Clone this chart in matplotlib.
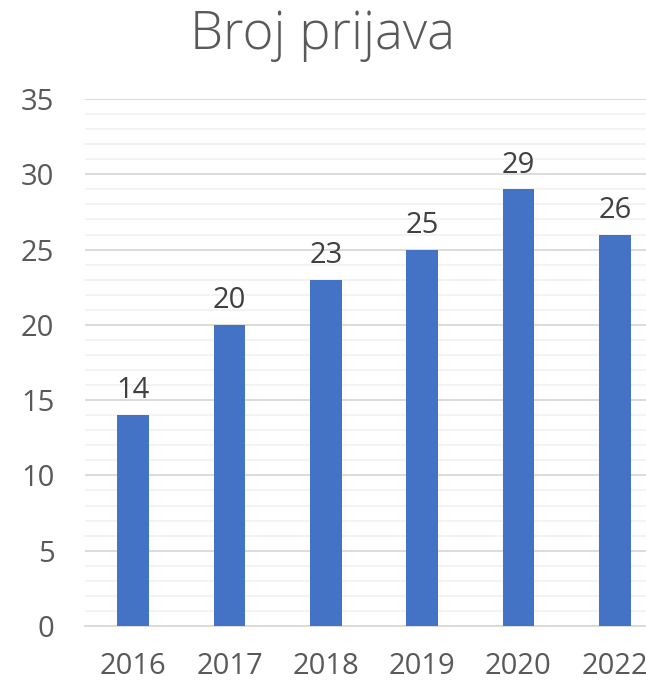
import numpy as np
import matplotlib.pyplot as plt
from matplotlib.ticker import MultipleLocator

years = ["2016", "2017", "2018", "2019", "2020", "2022"]
prijave = [14, 20, 23, 25, 29, 26]

plt.rcParams["font.family"] = ["Open Sans", "DejaVu Sans"]

fig = plt.figure(figsize=(6.46, 6.8), dpi=100)
ax = fig.add_axes([85 / 646, 54 / 680, 578 / 646, 527 / 680])

x = np.arange(len(years))
ax.bar(x, prijave, width=0.33, color="#4472C4", zorder=3)

for xi, v in zip(x, prijave):
    ax.annotate(str(v), (xi, v), xytext=(0, 7), textcoords="offset points",
                ha="center", va="bottom", fontsize=21, color="#404040")

ax.set_xlim(-0.5, len(years) - 0.5)
ax.set_ylim(0, 35)
ax.yaxis.set_major_locator(MultipleLocator(5))
ax.yaxis.set_minor_locator(MultipleLocator(1))
ax.grid(axis="y", which="major", color="#d9d9d9", linewidth=1.3, zorder=0)
ax.grid(axis="y", which="minor", color="#f2f2f2", linewidth=1.3, zorder=0)

ax.set_xticks(x)
ax.set_xticklabels(years)
for s in ["top", "right", "left"]:
    ax.spines[s].set_visible(False)
ax.spines["bottom"].set_color("#d9d9d9")
ax.spines["bottom"].set_linewidth(1.3)
ax.tick_params(axis="both", which="both", length=0, labelsize=21, labelcolor="#595959")
ax.tick_params(axis="x", pad=19)
ax.tick_params(axis="y", pad=22)

fig.text(0.5, 0.948, "Broj prijava", ha="center", va="center", fontsize=38,
         color="#595959", fontweight="light")

fig.savefig("out.png", dpi=100)
